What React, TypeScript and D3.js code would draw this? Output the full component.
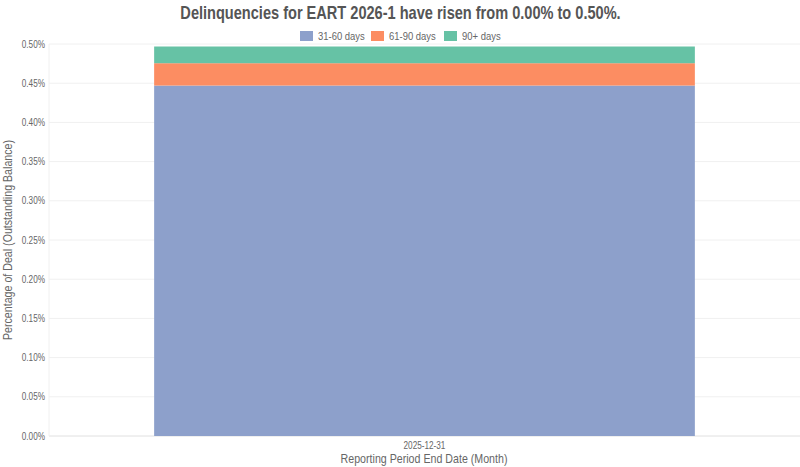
import React from "react";
import * as d3 from "d3";

const categories = ["2025-12-31"];
const seriesNames = ["31-60 days", "61-90 days", "90+ days"];
const seriesColors = ["#8da0cb", "#fc8d62", "#66c2a5"];
const days31to60 = [0.447];
const days61to90 = [0.0285];
const days90plus = [0.0213];
const yTicks = [0, 0.05, 0.1, 0.15, 0.2, 0.25, 0.3, 0.35, 0.4, 0.45, 0.5];
const title = "Delinquencies for EART 2026-1 have risen from 0.00% to 0.50%.";

const NARROW = 0.82;

function NText(props: {
  x: number; y: number; rotate?: number; sx?: number; anchor?: string;
  size: number; weight?: string; fill: string; children: React.ReactNode;
}) {
  const { x, y, rotate = 0, sx = NARROW, anchor = "start", size, weight = "normal", fill, children } = props;
  return (
    <text
      transform={`translate(${x},${y}) rotate(${rotate}) scale(${sx},1)`}
      textAnchor={anchor}
      fontSize={size}
      fontWeight={weight}
      fill={fill}
    >
      {children}
    </text>
  );
}

export default function App() {
  const W = 800, H = 467;
  const left = 49, right = 800, top = 44, bottom = 436;
  const font = "'Liberation Sans', Arial, sans-serif";
  const y = d3.scaleLinear().domain([0, 0.5]).range([bottom, top]);
  const x = d3.scaleBand().domain(categories).range([left, right]).paddingInner(0.28).paddingOuter(0.14);
  const rows = categories.map((c, i) => ({
    cat: c,
    "31-60 days": days31to60[i],
    "61-90 days": days61to90[i],
    "90+ days": days90plus[i],
  }));
  const stack = d3.stack<any>().keys(seriesNames)(rows);
  const legendX = [300, 371, 444];
  return (
    <div style={{ position: "absolute", left: 0, top: 0 }}>
      <svg width={W} height={H} style={{ display: "block", fontFamily: font }}>
        <rect width={W} height={H} fill="#fff" />
        <NText x={400.5} y={19} anchor="middle" size={18} weight="bold" fill="#555" sx={0.81}>{title}</NText>
        {seriesNames.map((s, i) => (
          <g key={s}>
            <rect x={legendX[i]} y={31} width={13} height={10} fill={seriesColors[i]} />
            <NText x={legendX[i] + 18} y={40} size={11} fill="#666" sx={0.86}>{s}</NText>
          </g>
        ))}
        {yTicks.map((t) => (
          <g key={t}>
            <line x1={left} x2={right} y1={y(t)} y2={y(t)} stroke={t === 0 ? "#e0e0e0" : "#f0f0f0"} strokeWidth={1} />
            <NText x={45} y={y(t) + 3.5} anchor="end" size={10} fill="#666">{d3.format(".2f")(t) + "%"}</NText>
          </g>
        ))}
        <line x1={left} x2={left} y1={top} y2={bottom} stroke="#f0f0f0" />
        {stack.map((layer, si) =>
          layer.map((d, i) => (
            <rect
              key={si + "-" + i}
              x={x(categories[i])!}
              width={x.bandwidth()}
              y={y(d[1])}
              height={y(d[0]) - y(d[1])}
              fill={seriesColors[si]}
            />
          ))
        )}
        {categories.map((c) => (
          <NText key={c} x={x(c)! + x.bandwidth() / 2} y={448.5} anchor="middle" size={10} fill="#666">{c}</NText>
        ))}
        <NText x={424} y={463} anchor="middle" size={13} fill="#666">Reporting Period End Date (Month)</NText>
        <NText x={12} y={(top + bottom) / 2} rotate={-90} anchor="middle" size={13} fill="#666">Percentage of Deal (Outstanding Balance)</NText>
      </svg>
    </div>
  );
}
